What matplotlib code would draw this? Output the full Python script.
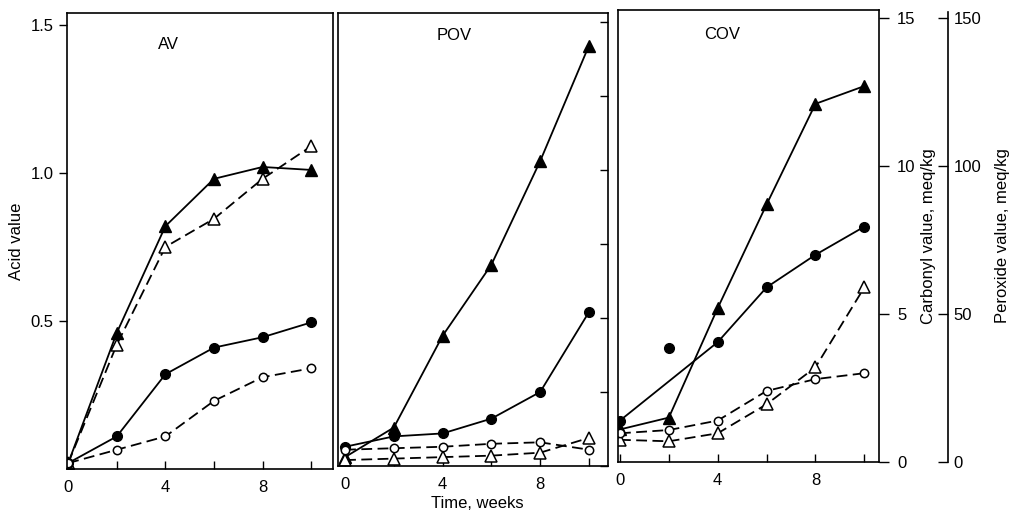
import numpy as np
import matplotlib.pyplot as plt

plt.rcParams['font.family'] = ['Liberation Sans', 'DejaVu Sans']
plt.rcParams['font.size'] = 12

W, H = 1018, 523

weeks = [0, 2, 4, 6, 8, 10]

# Acid value
av_tri_filled = [0.02, 0.46, 0.82, 0.98, 1.02, 1.01]
av_tri_open = [0.02, 0.42, 0.75, 0.845, 0.98, 1.09]
av_circ_filled = [0.02, 0.11, 0.32, 0.41, 0.445, 0.495]
av_circ_open = [0.02, 0.065, 0.11, 0.23, 0.31, 0.34]

# Peroxide value, meq/kg
pov_tri_filled = [3, 13, 44, 68, 103, 142]
pov_circ_filled = [6.5, 10, 11, 16, 25, 52]
pov_circ_open = [5.5, 6, 6.5, 7.5, 8, 5.5]
pov_tri_open = [2, 2.5, 3, 3.5, 4.5, 9.5]

# Carbonyl value, meq/kg
cov_tri_filled = [1.1, 1.5, 5.2, 8.7, 12.1, 12.7]
cov_circ_filled = [1.4, 3.85, 4.05, 5.9, 7.0, 7.95]
cov_circ_open = [0.97, 1.08, 1.4, 2.4, 2.8, 3.0]
cov_tri_open = [0.75, 0.7, 0.97, 1.95, 3.2, 5.9]

xticks = [0, 2, 4, 6, 8, 10]
xlabels = ['0', '', '4', '', '8', '']


def box(l, r, t, b):  # pixel box -> fig coords
    return [l / W, 1 - b / H, (r - l) / W, (b - t) / H]


def draw_series(ax, tf, to, cf, co, skip_cf=None):
    dash = (0, (6, 3))
    ax.plot(weeks, tf, '-', color='k', lw=1.3, marker='^', ms=8.5, mfc='k', mec='k')
    ax.plot(weeks, to, color='k', lw=1.3, ls=dash, marker='^', ms=8.5, mfc='white', mec='k', mew=1.1)
    if skip_cf is None:
        ax.plot(weeks, cf, '-', color='k', lw=1.3, marker='o', ms=7, mfc='k', mec='k')
    else:
        # one point is drawn on its own, off the line
        xs = [w for i, w in enumerate(weeks) if i != skip_cf]
        ys = [v for i, v in enumerate(cf) if i != skip_cf]
        ax.plot(xs, ys, '-', color='k', lw=1.3, marker='o', ms=7, mfc='k', mec='k')
        ax.plot(weeks[skip_cf], cf[skip_cf], 'o', ms=7, mfc='k', mec='k')
    ax.plot(weeks, co, color='k', lw=1.3, ls=dash, marker='o', ms=6, mfc='white', mec='k', mew=1.1)


def style_panel(ax, xlim):
    ax.set_xlim(*xlim)
    ax.set_xticks(xticks)
    ax.set_xticklabels(xlabels)
    ax.tick_params(axis='x', direction='in', length=6, width=1, pad=8)
    for s in ax.spines.values():
        s.set_linewidth(1.2)


fig = plt.figure(figsize=(W / 100, H / 100), dpi=100)

# AV panel
ax1 = fig.add_axes(box(67, 333, 13, 469))
draw_series(ax1, av_tri_filled, av_tri_open, av_circ_filled, av_circ_open)
style_panel(ax1, (-0.05, 10.9))
ax1.set_ylim(0, 1.54)
ax1.set_yticks([0.5, 1.0, 1.5])
ax1.set_yticklabels(['0.5', '1.0', '1.5'])
ax1.tick_params(axis='y', direction='out', length=6, width=1)
ax1.set_ylabel('Acid value', labelpad=5)
ax1.text(0.38, 0.93, 'AV', transform=ax1.transAxes, ha='center', va='center')

# POV panel
ax2 = fig.add_axes(box(338, 608, 13, 466))
draw_series(ax2, pov_tri_filled, pov_tri_open, pov_circ_filled, pov_circ_open)
style_panel(ax2, (-0.29, 10.78))
ax2.set_ylim(0, 153)
ax2.set_yticks(np.arange(0, 151, 25))
ax2.yaxis.tick_right()
ax2.tick_params(axis='y', direction='in', length=6, width=1, labelright=False)
ax2.text(0.43, 0.95, 'POV', transform=ax2.transAxes, ha='center', va='center')

# Peroxide axis, detached to the right of the COV panel
ax4 = fig.add_axes(box(618, 879, 10, 462))
ax4.set_ylim(0, 152.7)
ax4.set_xticks([])
ax4.patch.set_visible(False)
for s in ['top', 'bottom', 'left']:
    ax4.spines[s].set_visible(False)
ax4.yaxis.tick_right()
ax4.yaxis.set_label_position('right')
ax4.spines['right'].set_position(('axes', (948 - 618) / (879 - 618)))
ax4.spines['right'].set_bounds(0, 152)
ax4.spines['right'].set_linewidth(1.2)
ax4.set_yticks([0, 50, 100, 150])
ax4.tick_params(axis='y', direction='in', length=7, width=1, pad=4)
ax4.set_ylabel('Peroxide value, meq/kg', labelpad=10)

# COV panel (carbonyl axis on its right side)
ax3 = fig.add_axes(box(618, 879, 10, 462))
draw_series(ax3, cov_tri_filled, cov_tri_open, cov_circ_filled, cov_circ_open, skip_cf=1)
style_panel(ax3, (-0.08, 10.6))
ax3.set_ylim(0, 15.27)
ax3.set_yticks([0, 5, 10, 15])
ax3.yaxis.tick_right()
ax3.yaxis.set_label_position('right')
ax3.tick_params(axis='y', direction='out', length=7, width=1, pad=6)
ax3.set_ylabel('Carbonyl value, meq/kg', labelpad=4)
ax3.text(0.4, 0.945, 'COV', transform=ax3.transAxes, ha='center', va='center')

fig.text(477 / W, 1 - 503 / H, 'Time, weeks', ha='center', va='center')

plt.savefig('out.png', dpi=100)
